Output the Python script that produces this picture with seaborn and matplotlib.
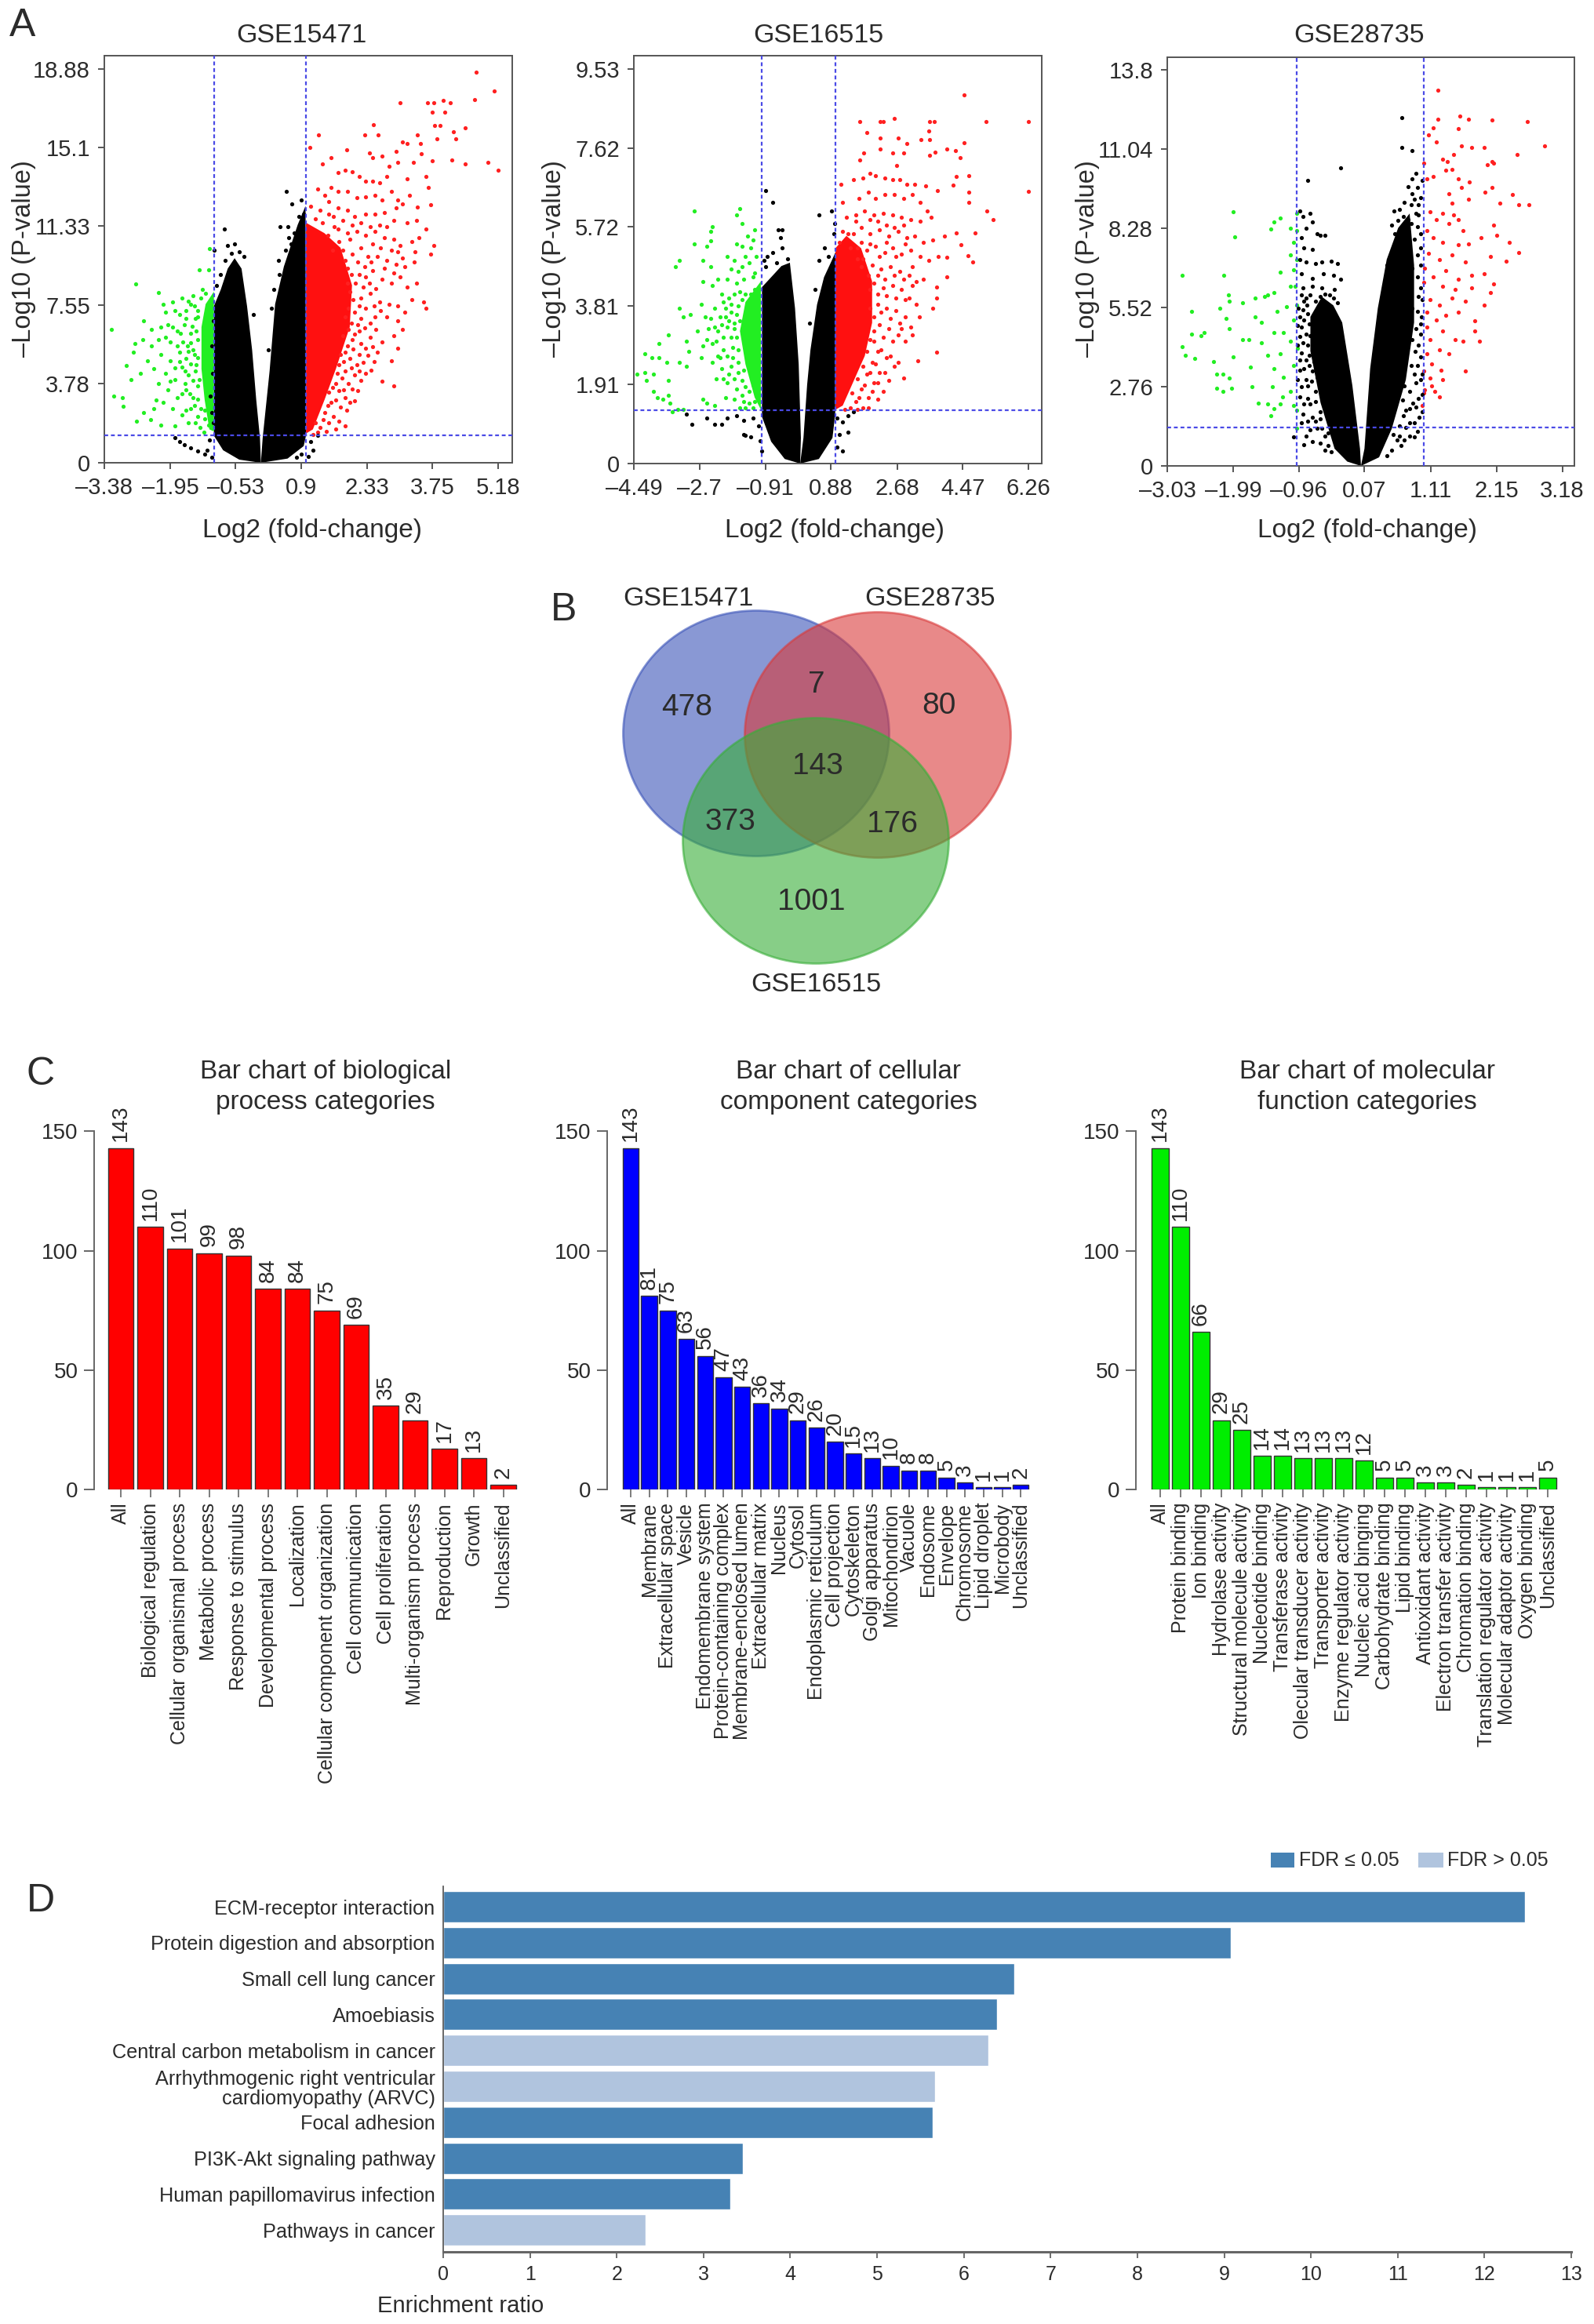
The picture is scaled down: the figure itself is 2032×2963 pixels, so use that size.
import matplotlib
matplotlib.use("Agg")
import matplotlib.pyplot as plt
from matplotlib.patches import Ellipse, Rectangle
import seaborn as sns
import pandas as pd

sns.set_theme(style="white")
plt.rcParams['font.family'] = ['Liberation Sans', 'DejaVu Sans']

W, H = 2032, 2963
TEXT = "#2b2b2b"
FRAME = "#555555"
GUIDE = "#4a4ae6"

# ---- panel A, values ----
ticks_x_15471 = [-3.38, -1.95, -0.53, 0.9, 2.33, 3.75, 5.18]
ticks_y_15471 = [0, 3.78, 7.55, 11.33, 15.1, 18.88]
ticks_x_16515 = [-4.49, -2.7, -0.91, 0.88, 2.68, 4.47, 6.26]
ticks_y_16515 = [0, 1.91, 3.81, 5.72, 7.62, 9.53]
ticks_x_28735 = [-3.03, -1.99, -0.96, 0.07, 1.11, 2.15, 3.18]
ticks_y_28735 = [0, 2.76, 5.52, 8.28, 11.04, 13.8]

# outlines of the areas where the points merge into a solid mass
black_left_15471 = [(0.02, 0), (-0.45, 0.15), (-0.8, 0.6), (-1.0, 1.3), (-1.0, 4), (-1.0, 7.5), (-0.85, 8.3), (-0.7, 9.3),
                    (-0.55, 9.8), (-0.4, 9.3), (-0.28, 7.5), (-0.17, 5.4), (-0.08, 3), (0.0, 1.2)]
black_right_15471 = [(0.02, 0), (0.06, 1.2), (0.21, 4.4), (0.33, 7.6), (0.52, 9.4), (0.82, 11.4), (0.99, 12.3), (1.0, 1.3),
                     (0.95, 0.8), (0.6, 0.2)]
red_core_15471 = [(1, 1.4), (1.15, 1.6), (1.4, 3), (1.65, 4.5), (1.95, 6.5), (2.0, 8.5), (1.75, 10.3), (1.4, 11), (1, 11.5)]
green_core_15471 = [(-1.0, 1.5), (-1.1, 1.6), (-1.2, 3), (-1.27, 4.5), (-1.27, 6.5), (-1.18, 7.6), (-1.0, 8.2)]

black_left_16515 = [(0.04, 0), (-0.38, 0.11), (-0.75, 0.53), (-1.0, 1.13), (-1.0, 4.26), (-0.75, 4.5), (-0.47, 4.77),
                    (-0.24, 4.85), (-0.1, 3.75), (0.0, 2.4), (0.06, 0.62)]
black_right_16515 = [(0.04, 0), (0.13, 0.62), (0.23, 1.9), (0.32, 2.74), (0.5, 3.84), (0.69, 4.5), (0.92, 4.94), (1.0, 5.1),
                     (0.995, 1.2), (0.92, 0.62), (0.55, 0.11)]
red_core_16515 = [(1, 1.3), (1.2, 1.4), (1.5, 2.0), (1.8, 2.6), (2.0, 3.4), (2.0, 4.4), (1.7, 5.2), (1.3, 5.5), (1, 5.2)]
green_core_16515 = [(-1.03, 1.3), (-1.2, 1.6), (-1.45, 2.4), (-1.6, 3.2), (-1.45, 3.9), (-1.03, 4.4)]

black_left_28735 = [(0.015, 0), (-0.2, 0.15), (-0.4, 0.6), (-0.62, 2.2), (-0.78, 4.0), (-0.78, 5.2), (-0.6, 5.9), (-0.42, 5.6),
                    (-0.28, 5.0), (-0.12, 2.8), (0.0, 0.6)]
black_right_28735 = [(0.015, 0), (0.07, 0.6), (0.16, 3.4), (0.28, 5.5), (0.42, 7.2), (0.6, 8.3), (0.78, 8.8), (0.85, 7.0),
                     (0.85, 5.0), (0.72, 3.0), (0.5, 1.3), (0.3, 0.3)]

red_15471 = [(4.69, 18.7), (5.09, 17.8), (4.66, 17.4), (3.05, 17.25), (3.64, 17.25), (3.77, 17.25), (3.98, 17.35), (4.13, 17.25),
             (3.75, 16.8), (4.02, 16.8), (3.79, 16.15), (3.92, 16.15), (4.46, 16.05), (4.21, 15.85), (3.85, 15.5), (4.25, 15.5),
             (3.42, 15.7), (2.46, 16.2), (2.57, 15.7), (2.27, 15.7), (1.28, 15.7), (4.17, 14.5), (4.46, 14.3), (4.95, 14.4),
             (5.17, 14.0), (1.08, 15.1), (1.89, 15.0), (2.38, 14.85), (2.95, 14.9), (3.1, 15.35), (3.2, 15.3), (3.48, 15.3),
             (3.5, 14.8), (3.33, 14.4), (3.75, 14.45), (3.6, 13.7), (3.65, 13.2), (3.71, 12.35), (3.41, 12.25), (3.77, 10.4),
             (3.7, 10.0), (3.37, 10.1), (1.35, 14.3), (1.55, 14.6), (1.7, 13.9), (1.85, 14.0), (2.0, 13.95), (2.15, 13.7),
             (2.3, 13.5), (2.45, 13.5), (2.6, 13.4), (2.8, 14.2), (3.0, 14.4), (2.45, 14.6), (2.65, 14.7), (3.2, 13.6),
             (2.75, 13.7), (1.25, 13.1), (1.4, 12.8), (1.55, 13.2), (1.7, 13.0), (1.9, 13.0), (2.1, 12.7), (2.3, 12.75),
             (2.5, 12.8), (2.65, 12.6), (2.85, 13.0), (3.0, 12.6), (3.1, 12.4), (2.95, 12.2), (3.25, 12.8), (1.1, 12.3),
             (1.3, 12.1), (1.5, 11.9), (1.7, 12.2), (1.9, 12.1), (2.05, 11.8), (2.3, 11.9), (2.5, 11.9), (2.7, 12.0),
             (2.9, 11.6), (3.2, 11.5), (3.4, 11.6), (3.6, 11.2), (1.7, 11.2), (1.9, 11.0), (2.1, 11.1), (2.3, 10.9),
             (2.5, 11.1), (2.7, 10.8), (2.9, 10.7), (3.05, 10.4), (3.3, 10.6), (3.45, 10.8), (1.8, 10.2), (2.0, 10.0),
             (2.2, 10.3), (2.35, 9.9), (2.55, 9.9), (2.75, 9.7), (2.95, 9.5), (3.15, 9.4), (3.35, 9.6), (1.9, 9.3),
             (2.15, 9.0), (2.3, 8.9), (2.45, 9.2), (2.65, 8.8), (2.85, 8.6), (3.05, 8.9), (3.2, 8.4), (3.4, 8.6), (1.95, 8.2),
             (2.2, 7.9), (2.4, 8.1), (2.6, 7.7), (2.8, 7.6), (3.0, 7.5), (3.15, 7.2), (3.3, 7.8), (3.55, 7.7), (3.6, 7.4),
             (1.85, 7.0), (2.05, 7.2), (2.2, 6.9), (2.4, 6.7), (2.5, 7.0), (2.75, 7.0), (3.0, 6.8), (3.1, 6.4), (2.9, 6.1),
             (1.8, 6.1), (2.0, 5.9), (2.2, 5.7), (2.15, 6.3), (2.4, 6.0), (2.65, 5.8), (2.55, 5.3), (3.0, 5.5), (2.85, 4.9),
             (1.75, 5.2), (1.95, 5.0), (2.1, 4.7), (1.85, 4.4), (2.05, 4.2), (2.2, 3.95), (2.25, 4.8), (1.65, 3.8), (2.65, 3.9),
             (2.9, 3.7), (1.5, 3.4), (1.65, 3.0), (1.85, 3.1), (1.95, 2.9), (1.4, 2.4), (1.6, 2.2), (1.3, 1.7), (1.65, 1.6),
             (1.85, 1.75), (1.2, 1.9), (1.62, 11.3), (1.48, 10.9), (1.72, 10.6), (1.58, 10.2), (1.95, 10.7), (1.85, 9.7), (2.12, 9.6),
             (2.28, 9.4), (2.42, 9.6), (1.98, 9.0), (2.08, 8.6), (2.25, 8.4), (2.38, 8.6), (2.52, 8.35), (1.9, 8.6), (2.02, 7.8),
             (2.15, 7.5), (2.3, 7.4), (2.48, 7.5), (2.62, 7.3), (1.92, 7.4), (1.98, 6.7), (2.12, 6.6), (2.28, 6.45), (2.52, 6.4),
             (1.92, 6.4), (2.05, 6.15), (2.3, 5.5), (2.45, 5.55), (1.9, 5.6), (1.85, 5.3), (2.02, 5.45), (2.15, 5.2), (2.35, 5.15),
             (2.48, 4.85), (1.72, 4.7), (1.82, 4.85), (1.98, 4.55), (2.15, 4.4), (2.3, 4.3), (2.42, 4.45), (1.68, 4.3), (1.78, 4.05),
             (1.92, 3.8), (2.0, 3.55), (2.12, 3.45), (1.58, 3.6), (1.72, 3.45), (1.82, 3.5), (1.55, 2.9), (1.75, 2.65), (1.88, 2.5),
             (2.05, 2.95), (1.48, 2.75), (1.38, 2.05), (1.5, 1.9), (1.72, 2.0), (1.25, 1.45), (1.15, 1.35), (1.45, 1.5), (1.5, 12.5),
             (1.2, 11.7), (1.35, 11.5), (1.6, 11.8), (1.8, 11.6), (2.0, 11.4), (2.2, 11.5), (2.4, 11.3), (2.6, 11.4), (2.75, 11.3),
             (2.85, 10.2), (2.62, 10.3), (2.45, 10.5), (3.0, 10.1), (2.7, 9.3), (2.9, 9.1), (3.1, 9.8)]
green_15471 = [(-3.23, 6.4), (-2.7, 8.55), (-2.2, 8.15), (-1.31, 9.25), (-1.1, 10.25), (-1.12, 9.25), (-3.17, 3.2), (-2.98, 3.1),
               (-2.97, 2.7), (-2.9, 4.65), (-2.8, 4.0), (-2.6, 4.3), (-2.72, 5.7), (-2.53, 6.8), (-2.53, 2.4), (-2.68, 2.0),
               (-2.38, 2.05), (-2.15, 1.8), (-2.3, 2.6), (-2.55, 5.9), (-2.35, 6.4), (-2.35, 5.6), (-2.15, 6.5), (-2.0, 6.6),
               (-2.05, 7.2), (-1.85, 7.3), (-1.7, 7.9), (-1.5, 7.6), (-1.45, 8.0), (-1.35, 7.3), (-1.95, 5.8), (-1.8, 6.3),
               (-1.65, 6.6), (-1.5, 6.2), (-1.4, 6.9), (-2.15, 5.2), (-1.95, 4.9), (-1.75, 5.3), (-1.6, 5.0), (-1.45, 5.4),
               (-1.35, 5.9), (-2.3, 4.5), (-2.05, 4.3), (-1.85, 4.0), (-1.7, 4.6), (-1.55, 4.2), (-1.4, 4.4), (-1.35, 3.7),
               (-2.0, 3.5), (-1.8, 3.1), (-1.6, 3.5), (-1.45, 3.1), (-1.9, 2.6), (-1.7, 2.3), (-1.5, 2.6), (-1.35, 2.2),
               (-1.55, 1.9), (-1.3, 1.7), (-1.2, 2.5), (-1.85, 1.75), (-2.1, 2.9), (-1.6, 7.3), (-1.25, 8.3), (-1.9, 7.7),
               (-1.35, 7.0), (-1.42, 7.5), (-1.55, 7.75), (-1.28, 7.9), (-1.18, 8.1), (-1.6, 6.9), (-1.72, 6.2), (-1.48, 6.55),
               (-1.38, 6.3), (-1.58, 5.6), (-1.68, 5.8), (-1.5, 5.75), (-1.42, 5.2), (-1.55, 5.35), (-1.35, 5.05), (-1.75, 4.85),
               (-1.5, 4.75), (-1.38, 4.7), (-1.62, 4.4), (-1.45, 3.95), (-1.32, 4.0), (-1.62, 3.8), (-1.52, 3.3), (-1.35, 3.05),
               (-1.7, 3.3), (-1.42, 2.75), (-1.28, 2.6), (-1.6, 2.5), (-1.2, 2.1), (-1.12, 1.8), (-1.4, 1.9), (-1.22, 1.45),
               (-1.8, 5.6), (-2.05, 6.0), (-1.9, 6.5), (-2.2, 5.9), (-1.85, 4.55), (-1.95, 3.9), (-2.2, 3.8), (-2.25, 3.0),
               (-2.45, 4.9), (-2.75, 5.3), (-2.1, 7.6), (-1.75, 7.1)]
black_15471 = [(-1.0, 10.2), (-0.78, 11.2), (-0.7, 10.4), (-0.55, 10.5), (-0.45, 10.1), (-0.35, 9.9), (0.57, 13.0), (0.7, 12.4),
               (0.85, 11.8), (0.43, 11.3), (0.6, 11.3), (0.4, 9.7), (0.55, 10.2), (0.68, 10.5), (0.9, 12.6), (0.75, 11.0),
               (0.25, 7.4), (0.18, 5.4), (-0.15, 7.1), (-1.75, 1.0), (-1.65, 0.85), (-1.5, 0.7), (-1.35, 0.55), (-1.2, 0.4),
               (-1.1, 1.1), (-1.15, 0.6), (-1.05, 0.25), (1.1, 1.0), (1.15, 0.6), (1.05, 0.3), (1.25, 1.3), (-1.85, 1.2),
               (-1.02, 1.9), (-1.05, 2.4), (-1.08, 3.2), (0.9, 0.4), (0.8, 0.25), (-0.95, 8.5), (-0.85, 9.0), (-0.75, 9.7),
               (-0.62, 10.05), (0.3, 8.3), (0.42, 9.0), (0.62, 10.8), (0.95, 11.9), (-1.03, 4.3), (-1.04, 5.6), (-1.02, 6.8)]

red_16515 = [(4.5, 8.9), (6.26, 8.26), (5.11, 8.26), (1.66, 8.26), (2.22, 8.26), (2.31, 8.26), (2.6, 8.34), (3.56, 8.26), (3.7, 8.26),
             (1.85, 8.0), (3.54, 8.03), (2.22, 7.86), (2.72, 7.86), (3.33, 7.82), (3.56, 7.82), (4.5, 7.75), (2.95, 7.72), (2.22, 7.6),
             (4.03, 7.6), (4.26, 7.56), (4.4, 7.38), (1.76, 7.5), (1.66, 7.33), (2.67, 7.2), (2.55, 7.5), (2.85, 7.5), (3.71, 7.52),
             (3.56, 7.45), (6.26, 6.58), (4.64, 6.95), (4.64, 6.55), (4.64, 6.3), (5.13, 6.1), (5.29, 5.89), (4.81, 5.56), (4.3, 6.93),
             (4.2, 6.73), (3.78, 6.6), (4.3, 5.57), (3.98, 5.49), (4.42, 5.28), (4.62, 5.02), (4.74, 4.87), (4.03, 4.98), (4.03, 4.51),
             (3.75, 4.26), (3.75, 4.0), (3.66, 3.75), (3.29, 3.54), (3.75, 2.69), (3.24, 2.48), (2.85, 2.06), (1.15, 6.75), (1.5, 6.85),
             (1.75, 6.9), (1.95, 7.0), (2.1, 6.95), (2.35, 6.9), (2.55, 6.85), (2.75, 6.85), (2.95, 6.75), (3.15, 6.75), (3.45, 6.7),
             (1.2, 6.3), (1.65, 6.4), (1.9, 6.55), (2.1, 6.4), (2.35, 6.5), (2.6, 6.5), (2.85, 6.4), (3.1, 6.5), (3.3, 6.3), (3.5, 6.1),
             (1.3, 5.95), (1.55, 6.0), (1.8, 6.1), (2.05, 6.0), (2.3, 6.05), (2.55, 6.0), (2.8, 5.95), (3.05, 5.9), (3.3, 5.85), (3.6, 5.95),
             (1.2, 5.6), (1.5, 5.55), (1.7, 5.7), (1.95, 5.55), (2.2, 5.65), (2.45, 5.5), (2.7, 5.6), (2.95, 5.45), (3.15, 5.5), (3.4, 5.35),
             (3.65, 5.4), (1.6, 5.2), (1.85, 5.15), (2.1, 5.25), (2.35, 5.1), (2.55, 5.2), (2.8, 5.05), (3.05, 5.15), (3.3, 5.0), (3.55, 4.9),
             (3.8, 5.0), (1.7, 4.75), (2.0, 4.8), (2.25, 4.7), (2.5, 4.75), (2.75, 4.65), (3.0, 4.55), (3.2, 4.4), (3.4, 4.45), (2.05, 4.35),
             (2.3, 4.25), (2.55, 4.3), (2.8, 4.2), (3.0, 4.0), (3.2, 3.85), (2.15, 3.85), (2.4, 3.75), (2.65, 3.7), (2.9, 3.55), (3.05, 3.3),
             (2.2, 3.35), (2.45, 3.25), (2.7, 3.1), (2.9, 2.95), (3.1, 3.1), (2.05, 2.95), (2.25, 2.75), (2.5, 2.6), (2.7, 2.45), (2.1, 2.4),
             (2.35, 2.2), (1.85, 2.15), (2.05, 1.95), (2.3, 1.75), (1.7, 1.8), (1.9, 1.6), (1.55, 1.5), (1.75, 1.35), (1.4, 1.35),
             (1.55, 5.85), (1.35, 5.55), (1.1, 5.35), (1.7, 5.35), (1.95, 5.9), (2.15, 5.85), (2.4, 5.75), (2.6, 5.7), (2.85, 5.75),
             (1.4, 5.2), (1.75, 4.95), (1.95, 5.3), (2.2, 5.0), (2.4, 5.35), (2.65, 5.0), (2.9, 5.3), (1.6, 4.95), (1.9, 4.55), (2.15, 4.55),
             (2.35, 4.45), (2.6, 4.55), (2.85, 4.45), (3.1, 4.75), (1.95, 4.2), (2.15, 4.1), (2.4, 4.05), (2.65, 4.0), (2.9, 3.95), (3.1, 4.3),
             (1.95, 3.75), (2.05, 3.55), (2.25, 3.65), (2.5, 3.5), (2.75, 3.4), (2.05, 3.2), (2.3, 3.05), (2.55, 2.95), (2.8, 3.25), (1.95, 3.0),
             (2.15, 2.7), (2.4, 2.55), (2.6, 2.35), (1.85, 2.7), (2.0, 2.45), (2.2, 2.2), (2.45, 2.0), (1.75, 2.35), (1.95, 2.2), (2.15, 1.95),
             (1.6, 2.05), (1.8, 1.9), (1.45, 1.7), (1.65, 1.6), (2.0, 1.75), (2.15, 1.55), (1.25, 1.3), (1.6, 1.3), (1.9, 1.35)]
green_16515 = [(-2.85, 6.1), (-1.6, 6.15), (-1.7, 6.0), (-1.55, 5.8), (-2.35, 5.72), (-2.4, 5.6), (-2.4, 5.38), (-2.85, 5.3),
               (-2.5, 5.25), (-1.2, 5.65), (-1.4, 5.5), (-1.55, 5.25), (-1.7, 5.3), (-3.35, 4.75), (-3.25, 4.9), (-2.6, 4.9),
               (-2.4, 4.75), (-1.95, 5.0), (-1.75, 4.9), (-1.55, 4.75), (-1.35, 4.85), (-1.15, 5.0), (-2.6, 4.4), (-2.35, 4.3),
               (-2.2, 4.45), (-1.95, 4.45), (-1.7, 4.35), (-1.5, 4.45), (-1.25, 4.5), (-3.25, 3.75), (-3.15, 3.55), (-2.95, 3.6),
               (-2.65, 3.85), (-2.55, 3.55), (-2.3, 3.75), (-2.05, 3.9), (-1.85, 3.65), (-1.65, 3.8), (-2.75, 3.2), (-2.45, 3.25),
               (-2.2, 3.2), (-1.95, 3.3), (-1.75, 3.25), (-3.55, 3.1), (-3.8, 2.9), (-3.05, 2.95), (-3.0, 2.7), (-2.6, 2.85),
               (-2.35, 2.9), (-2.05, 2.75), (-1.8, 2.8), (-4.2, 2.65), (-4.0, 2.55), (-3.8, 2.55), (-3.6, 2.45), (-3.25, 2.45),
               (-3.05, 2.35), (-2.65, 2.55), (-2.35, 2.45), (-2.1, 2.3), (-1.85, 2.35), (-1.65, 2.2), (-4.4, 2.15), (-4.2, 2.2),
               (-4.15, 2.0), (-3.95, 2.15), (-3.55, 2.0), (-2.25, 2.05), (-1.95, 1.95), (-1.7, 1.8), (-1.45, 1.85), (-1.5, 1.5),
               (-3.95, 1.75), (-3.85, 1.6), (-3.7, 1.55), (-3.55, 1.65), (-3.5, 1.45), (-2.6, 1.55), (-2.5, 1.45), (-2.3, 1.4),
               (-3.45, 1.25), (-3.3, 1.3), (-3.15, 1.3), (-1.25, 1.35), (-1.6, 1.35), (-2.0, 1.6), (-2.2, 2.6), (-2.0, 3.55),
               (-1.3, 4.1), (-1.2, 4.6), (-1.45, 4.1), (-1.6, 4.15), (-1.75, 4.1), (-1.9, 4.0), (-2.1, 4.1), (-1.55, 3.95), (-1.7, 3.6),
               (-1.85, 3.85), (-2.0, 3.75), (-2.15, 3.55), (-2.4, 3.5), (-1.6, 3.45), (-1.75, 3.4), (-1.9, 3.45), (-2.1, 3.35), (-2.3, 3.3),
               (-1.7, 3.05), (-1.85, 3.05), (-2.05, 3.05), (-2.25, 2.95), (-2.5, 3.0), (-1.65, 2.75), (-1.8, 2.55), (-1.95, 2.6),
               (-2.15, 2.55), (-1.65, 2.45), (-1.5, 2.25), (-1.75, 2.05), (-1.9, 2.15), (-2.05, 2.05), (-1.55, 2.0), (-1.35, 1.75),
               (-1.55, 1.65), (-1.75, 1.55), (-1.2, 1.5), (-1.35, 1.45), (-1.25, 1.9), (-1.45, 1.35), (-1.3, 5.2), (-1.45, 5.0),
               (-1.25, 5.4), (-1.65, 4.65), (-1.2, 4.2), (-1.85, 4.7)]
black_16515 = [(-0.9, 6.6), (-0.7, 6.3), (-0.55, 5.65), (-0.45, 5.65), (-0.5, 5.45), (-0.45, 5.2), (-0.85, 5.0), (-0.7, 5.1),
               (-0.9, 4.75), (0.55, 6.0), (0.9, 6.1), (0.98, 5.8), (0.95, 5.55), (0.7, 5.2), (0.8, 5.0), (-3.05, 1.2), (-2.9, 0.95),
               (-2.5, 1.1), (-2.3, 0.95), (-2.1, 0.95), (-1.95, 1.1), (-1.7, 1.15), (-1.5, 1.05), (-1.5, 0.7), (-1.3, 0.65), (-1.25, 1.1),
               (-1.1, 0.9), (-1.05, 0.55), (-1.0, 0.3), (1.05, 1.1), (1.2, 1.0), (1.35, 0.75), (1.1, 0.7), (1.05, 0.4), (1.2, 0.3),
               (1.35, 1.15), (1.5, 1.25), (-1.45, 0.68), (-0.95, 4.9), (0.55, 4.9), (-0.3, 4.95), (-0.6, 4.85), (0.45, 4.2), (0.3, 3.4)]

red_28735 = [(1.23, 13.1), (1.23, 12.1), (1.57, 12.2), (1.7, 12.1), (2.07, 12.05), (2.63, 12.0), (1.15, 11.8), (1.55, 11.75),
             (1.08, 11.55), (1.2, 11.3), (1.6, 11.15), (1.75, 11.1), (1.95, 11.1), (2.9, 11.15), (2.47, 10.85), (1.47, 10.85), (1.3, 10.7),
             (1.37, 10.6), (1.0, 10.55), (2.0, 10.5), (2.1, 10.55), (2.07, 10.6), (1.45, 10.35), (1.35, 10.3), (1.15, 10.1), (1.05, 10.0),
             (1.55, 10.0), (2.08, 9.7), (1.4, 9.5), (1.6, 9.7), (1.7, 9.3), (1.72, 9.9), (1.97, 9.55), (1.45, 9.15), (2.2, 9.15), (2.5, 9.1),
             (2.4, 9.45), (2.65, 9.1), (1.3, 8.8), (1.47, 8.75), (1.55, 8.6), (2.1, 8.4), (1.1, 8.85), (1.2, 8.6), (1.4, 8.45), (1.62, 8.2),
             (1.05, 8.2), (1.15, 7.95), (1.3, 7.8), (1.55, 7.7), (1.7, 7.75), (1.9, 7.95), (2.15, 8.05), (2.35, 7.8), (2.5, 7.45), (1.08, 7.4),
             (1.25, 7.2), (1.45, 7.35), (1.65, 7.1), (2.05, 7.3), (2.3, 7.15), (1.02, 6.9), (1.15, 6.6), (1.35, 6.8), (1.55, 6.5), (1.75, 6.65),
             (1.95, 6.7), (2.1, 6.35), (1.0, 6.4), (1.3, 6.25), (1.5, 6.15), (1.75, 6.2), (2.05, 6.05), (1.1, 5.8), (1.25, 5.6), (1.45, 5.85),
             (1.65, 5.75), (1.95, 5.6), (1.05, 5.35), (1.2, 5.1), (1.35, 5.25), (1.55, 5.35), (1.8, 5.05), (1.05, 4.85), (1.3, 4.7), (1.5, 4.4),
             (1.62, 4.35), (1.8, 4.7), (1.88, 4.35), (1.1, 4.4), (1.25, 4.05), (1.4, 3.9), (1.05, 3.9), (1.13, 3.55), (1.27, 3.35), (1.65, 3.3),
             (1.0, 3.3), (1.1, 3.05), (1.3, 3.0), (1.02, 2.65), (1.12, 2.8), (1.17, 2.6), (1.25, 2.4), (1.0, 2.55), (0.98, 2.1)]
green_28735 = [(-2.0, 8.85), (-1.97, 8.0), (-2.8, 6.65), (-2.14, 6.65), (-2.65, 5.4), (-2.07, 5.95), (-2.8, 4.15), (-2.75, 3.85),
               (-2.6, 3.75), (-2.65, 4.6), (-2.5, 4.55), (-2.45, 4.65), (-2.3, 3.65), (-2.25, 3.2), (-2.15, 3.2), (-2.05, 3.05), (-2.25, 2.7),
               (-2.15, 2.6), (-2.02, 2.7), (-2.0, 3.8), (-2.05, 4.8), (-2.1, 5.15), (-2.2, 5.5), (-2.05, 5.75), (-1.85, 5.7), (-1.85, 4.4),
               (-1.75, 4.4), (-1.72, 3.45), (-1.7, 2.75), (-1.6, 2.2), (-1.45, 2.15), (-1.65, 5.2), (-1.55, 5.0), (-1.5, 5.9), (-1.65, 5.85),
               (-1.45, 5.95), (-1.35, 6.05), (-1.3, 5.4), (-1.15, 5.55), (-1.05, 5.1), (-1.2, 4.65), (-1.35, 4.65), (-1.0, 5.6), (-1.1, 4.35),
               (-1.25, 3.9), (-1.45, 3.85), (-1.55, 4.3), (-1.35, 3.4), (-1.2, 3.1), (-1.05, 3.5), (-0.98, 4.1), (-1.38, 2.75), (-1.22, 2.4),
               (-1.05, 2.1), (-1.35, 2.0), (-1.4, 1.75), (-1.25, 2.15), (-1.1, 2.6), (-1.0, 1.95), (-1.0, 1.3), (-1.25, 8.65), (-1.0, 8.8),
               (-1.4, 8.25), (-1.1, 8.3), (-1.0, 8.2), (-1.35, 8.5), (-1.05, 7.8), (-1.1, 7.35), (-1.0, 7.2), (-1.25, 6.75), (-1.05, 6.85),
               (-1.1, 6.25), (-1.02, 6.25)]
black_28735 = [(0.66, 12.15), (0.66, 11.1), (0.82, 11.0), (-0.31, 10.4), (-0.82, 9.95), (-0.95, 8.9), (-0.9, 8.7), (-0.78, 8.8),
               (-0.85, 8.3), (-0.75, 8.5), (-0.68, 8.1), (-0.62, 8.05), (-0.55, 8.05), (-0.92, 7.95), (-0.88, 7.6), (-0.75, 7.55), (-0.95, 7.2),
               (-0.85, 7.1), (-0.7, 7.05), (-0.6, 7.1), (-0.45, 7.15), (-0.35, 7.05), (-0.92, 6.7), (-0.75, 6.55), (-0.58, 6.7), (-0.42, 6.65),
               (-0.3, 6.5), (-0.9, 6.2), (-0.75, 6.25), (-0.6, 6.2), (-0.4, 6.15), (-0.88, 5.75), (-0.95, 5.2), (-0.82, 5.3), (-0.95, 4.5),
               (-0.85, 4.6), (-0.95, 3.7), (-0.85, 3.7), (-0.98, 3.0), (-0.85, 3.0), (-0.75, 3.3), (-0.95, 2.4), (-0.82, 2.35), (-0.7, 2.6),
               (-0.9, 1.8), (-0.75, 1.7), (-0.62, 1.9), (-0.85, 1.05), (-0.68, 1.3), (-0.55, 1.05), (-0.5, 0.7), (-0.45, 1.5), (-1.05, 1.0),
               (0.98, 9.95), (0.9, 9.7), (0.75, 9.75), (0.82, 9.5), (0.88, 10.2), (0.82, 10.0), (0.92, 9.1), (0.8, 9.1), (0.88, 8.8), (0.62, 8.95),
               (0.53, 8.9), (0.75, 8.6), (0.9, 8.35), (0.68, 8.35), (0.55, 8.1), (0.62, 7.9), (0.85, 7.9), (0.95, 7.6), (0.78, 7.55),
               (0.95, 7.0), (0.82, 6.9), (0.95, 6.2), (0.8, 6.2), (0.98, 5.8), (0.82, 5.5), (0.97, 5.2), (0.78, 5.2), (0.95, 4.6), (0.82, 4.4),
               (0.95, 3.8), (0.8, 3.5), (0.98, 3.2), (0.88, 2.9), (0.7, 2.8), (0.98, 2.5), (0.83, 2.2), (0.67, 2.3), (0.93, 1.7), (0.78, 1.5),
               (0.62, 1.4), (0.85, 1.0), (0.7, 0.9), (0.58, 0.9), (0.42, 0.35), (0.98, 1.9), (-0.92, 5.95), (-0.85, 5.85), (-0.78, 5.95),
               (-0.7, 5.75), (-0.62, 5.9), (-0.55, 6.0), (-0.48, 5.95), (-0.42, 5.85), (-0.35, 5.7), (-0.97, 5.5), (-0.9, 5.45), (-0.83, 5.6),
               (-0.88, 5.1), (-0.8, 4.95), (-0.92, 4.85), (-0.98, 4.9), (-0.9, 4.3), (-0.82, 4.2), (-0.78, 4.55), (-0.98, 4.2), (-0.92, 3.95),
               (-0.8, 3.85), (-0.95, 3.35), (-0.88, 3.4), (-0.8, 3.5), (-0.72, 3.65), (-0.92, 2.75), (-0.82, 2.8), (-0.76, 2.95), (-0.68, 3.1),
               (-0.62, 2.75), (-0.88, 2.15), (-0.78, 2.15), (-0.7, 2.25), (-0.92, 1.5), (-0.82, 1.55), (-0.7, 1.55), (-0.62, 1.65), (-0.78, 1.25),
               (-0.6, 1.3), (-0.5, 1.15), (-0.75, 0.85), (-0.62, 0.8), (-0.55, 0.55), (-0.45, 0.5), (-0.4, 0.9), (-0.38, 1.05), (-0.88, 0.75),
               (0.95, 9.35), (0.85, 9.3), (0.7, 9.2), (0.92, 8.75), (0.8, 8.45), (0.68, 8.7), (0.6, 8.55), (0.5, 8.4), (0.95, 8.1), (0.9, 7.35),
               (0.72, 7.7), (0.65, 7.5), (0.55, 7.6), (0.48, 7.35), (0.42, 7.0), (0.9, 6.6), (0.92, 5.9), (0.9, 5.4), (0.95, 4.95), (0.88, 4.8),
               (0.92, 4.2), (0.87, 4.0), (0.9, 3.5), (0.95, 3.0), (0.85, 3.2), (0.78, 2.6), (0.92, 2.35), (0.88, 2.05), (0.78, 2.0), (0.72, 1.95),
               (0.68, 1.75), (0.85, 1.5), (0.72, 1.35), (0.62, 1.05), (0.52, 1.1), (0.78, 1.05), (0.65, 0.7), (0.5, 0.55), (0.9, 1.2)]

# ---- panel B, overlap counts ----
venn_names = ["GSE15471", "GSE28735", "GSE16515"]
venn_counts = ["478", "7", "80", "143", "373", "176", "1001"]

# ---- panel C, category counts ----
bp_names = ["All", "Biological regulation", "Cellular organismal process", "Metabolic process", "Response to stimulus",
            "Developmental process", "Localization", "Cellular component organization", "Cell communication",
            "Cell proliferation", "Multi-organism process", "Reproduction", "Growth", "Unclassified"]
bp_values = [143, 110, 101, 99, 98, 84, 84, 75, 69, 35, 29, 17, 13, 2]
cc_names = ["All", "Membrane", "Extracellular space", "Vesicle", "Endomembrane system", "Protein-containing complex",
            "Membrane-enclosed lumen", "Extracellular matrix", "Nucleus", "Cytosol", "Endoplasmic reticulum", "Cell projection",
            "Cytoskeleton", "Golgi apparatus", "Mitochondrion", "Vacuole", "Endosome", "Envelope", "Chromosome",
            "Lipid droplet", "Microbody", "Unclassified"]
cc_values = [143, 81, 75, 63, 56, 47, 43, 36, 34, 29, 26, 20, 15, 13, 10, 8, 8, 5, 3, 1, 1, 2]
mf_names = ["All", "Protein binding", "Ion binding", "Hydrolase activity", "Structural molecule activity", "Nucleotide binding",
            "Transferase activity", "Olecular transducer activity", "Transporter activity", "Enzyme regulator activity",
            "Nucleic acid binging", "Carbohydrate binding", "Lipid binding", "Antioxidant activity", "Electron transfer activity",
            "Chromation binding", "Translation regulator activity", "Molecular adaptor activity", "Oxygen binding", "Unclassified"]
mf_values = [143, 110, 66, 29, 25, 14, 14, 13, 13, 13, 12, 5, 5, 3, 3, 2, 1, 1, 1, 5]

# ---- panel D, enrichment ----
pathways = ["ECM-receptor interaction", "Protein digestion and absorption", "Small cell lung cancer", "Amoebiasis",
            "Central carbon metabolism in cancer", "Arrhythmogenic right ventricular\ncardiomyopathy (ARVC)", "Focal adhesion",
            "PI3K-Akt signaling pathway", "Human papillomavirus infection", "Pathways in cancer"]
enrichment = [12.47, 9.08, 6.58, 6.38, 6.28, 5.67, 5.64, 3.45, 3.31, 2.33]
fdr_group = ["low", "low", "low", "low", "high", "high", "low", "low", "low", "high"]


def px_axes(left, top, right, bottom):
    return fig.add_axes([left / W, 1 - bottom / H, (right - left) / W, (bottom - top) / H])


def label(x, y, s, size=24.5, **kw):
    kw.setdefault("ha", "center")
    kw.setdefault("va", "center")
    fig.text(x / W, 1 - y / H, s, fontsize=size, color=TEXT, **kw)


def scatter(ax, points, colour, size=14):
    frame = pd.DataFrame(points, columns=["fc", "p"])
    sns.scatterplot(data=frame, x="fc", y="p", color=colour, s=size, linewidth=0, ax=ax, legend=False)


def volcano(box, title, title_x, xlabel_x, xlim, ylim, xticks, yticks, hline, solids, greens, reds, blacks):
    ax = px_axes(*box)
    for outline, colour in solids:
        ax.fill(*zip(*outline), color=colour, lw=0, zorder=1)
    scatter(ax, greens, "#22ee22")
    scatter(ax, reds, "#ff2020")
    scatter(ax, blacks, "black")
    ax.axvline(-1, color=GUIDE, lw=1.6, ls=(0, (2.2, 1.6)), zorder=4)
    ax.axvline(1, color=GUIDE, lw=1.6, ls=(0, (2.2, 1.6)), zorder=4)
    ax.axhline(hline, color=GUIDE, lw=1.6, ls=(0, (2.2, 1.6)), zorder=4)
    ax.set_xlim(*xlim)
    ax.set_ylim(*ylim)
    ax.set_xticks(xticks, [str(t).replace("-", "\u2013") for t in xticks])
    ax.set_yticks(yticks, [str(t) for t in yticks])
    ax.tick_params(bottom=True, left=True, length=6, width=1.4, color=FRAME, labelsize=21, labelcolor=TEXT, pad=7)
    ax.set_xlabel("")
    ax.set_ylabel("")
    for spine in ax.spines.values():
        spine.set_color(FRAME)
        spine.set_linewidth(1.4)
    label(title_x, 46, title)
    label(xlabel_x, 677, "Log2 (fold-change)", size=24)
    label(box[0] - 102, 330, "\u2013Log10 (P-value)", size=23.5, rotation=90)


def category_bars(left, right, first, pitch, names, values, colour, title, title_x, bar_width):
    ax = px_axes(left, 1442.5, right, 1899)
    sns.barplot(x=names, y=values, color=colour, saturation=1, width=bar_width, edgecolor="#333333", linewidth=1.0, ax=ax)
    ax.bar_label(ax.containers[0], rotation=90, padding=6, fontsize=20, color=TEXT)
    ax.set_xlim((left - first) / pitch, (right - first) / pitch)
    ax.set_ylim(0, 150)
    ax.set_yticks([0, 50, 100, 150])
    ax.tick_params(axis="y", left=True, length=9.5, width=1.4, color="#666666", labelsize=20, labelcolor=TEXT, pad=5)
    ax.tick_params(axis="x", bottom=True, length=7, width=1.2, color="#666666", labelsize=18, labelcolor=TEXT, pad=5,
                   labelrotation=90)
    sns.despine(ax=ax, top=True, right=True, bottom=True)
    ax.spines["left"].set_color("#666666")
    ax.spines["left"].set_linewidth(1.4)
    ax.set_xlabel("")
    ax.set_ylabel("")
    label(title_x, 1386, title, size=24, linespacing=1.3)


fig = plt.figure(figsize=(W / 100, H / 100), dpi=100)

volcano((133, 71, 653, 590), "GSE15471", 384, 398, (-3.38, 5.48), (0, 19.5), ticks_x_15471, ticks_y_15471, 1.3,
        [(black_left_15471, "black"), (black_right_15471, "black"), (red_core_15471, "#ff1010"), (green_core_15471, "#22ee22")],
        green_15471, red_15471, black_15471)
volcano((808, 71, 1328, 591), "GSE16515", 1043, 1064, (-4.49, 6.62), (0, 9.85), ticks_x_16515, ticks_y_16515, 1.28,
        [(black_left_16515, "black"), (black_right_16515, "black"), (red_core_16515, "#ff1010"), (green_core_16515, "#22ee22")],
        green_16515, red_16515, black_16515)
volcano((1488, 73, 2007, 594), "GSE28735", 1733, 1743, (-3.03, 3.37), (0, 14.25), ticks_x_28735, ticks_y_28735, 1.34,
        [(black_left_28735, "black"), (black_right_28735, "black")],
        green_28735, red_28735, black_28735)

# Venn diagram, slightly wider than tall as in the figure
venn = fig.add_axes([0, 0, 1, 1], zorder=-1)
venn.set_xlim(0, W)
venn.set_ylim(H, 0)
venn.axis("off")
for xy, colour in [((964, 935), "#3a53b8"), ((1119, 937), "#d93a3a"), ((1040, 1072), "#38ae38")]:
    venn.add_patch(Ellipse(xy, 339, 313, facecolor=colour, edgecolor=colour, alpha=0.6, lw=2))
for (x, y), name in zip([(877, 764), (1186, 764), (1040, 1256)], venn_names):
    label(x, y, name)
for (x, y), count in zip([(876, 900), (1041, 871), (1197, 898), (1042, 975), (931, 1046), (1137, 1049), (1034, 1148)], venn_counts):
    label(x, y + 2, count, size=28)

category_bars(120, 660, 154, 37.5, bp_names, bp_values, "#ff0000", "Bar chart of biological\nprocess categories", 415, 0.86)
category_bars(774, 1316, 804, 23.68, cc_names, cc_values, "#0000ff", "Bar chart of cellular\ncomponent categories", 1082, 0.86)
category_bars(1448, 1989, 1479, 26.0, mf_names, mf_values, "#00ee00", "Bar chart of molecular\nfunction categories", 1743, 0.85)

# enrichment bars
ax_d = px_axes(565, 2405, 2003, 2871)
sns.barplot(x=enrichment, y=pathways, hue=fdr_group, palette={"low": "#4682b4", "high": "#b0c4de"}, dodge=False,
            saturation=1, width=0.875, legend=False, ax=ax_d)
ax_d.set_xlim(0, 13)
ax_d.set_ylim(9.607, -0.568)
ax_d.set_xticks(range(14))
ax_d.tick_params(axis="x", bottom=True, length=6, width=1.2, color="#555555", labelsize=18, labelcolor=TEXT, pad=6)
ax_d.tick_params(axis="y", left=False, labelsize=18.2, labelcolor=TEXT, pad=1.5)
for tick in ax_d.get_yticklabels():
    tick.set_linespacing(1.1)
sns.despine(ax=ax_d, top=True, right=True)
ax_d.spines["bottom"].set_color("#666666")
ax_d.spines["bottom"].set_linewidth(2.2)
ax_d.spines["left"].set_color("#555555")
ax_d.set_xlabel("")
ax_d.set_ylabel("")
label(587, 2940, "Enrichment ratio", size=21)

# legend of panel D
venn.add_patch(Rectangle((1620, 2362), 30, 19, color="#4682b4", lw=0))
venn.add_patch(Rectangle((1808, 2362), 32, 19, color="#b0c4de", lw=0))
label(1656, 2372, "FDR \u2264 0.05", size=18, ha="left")
label(1845, 2372, "FDR > 0.05", size=18, ha="left")

# panel letters
label(29, 33, "A", size=36)
label(719, 778, "B", size=36)
label(52, 1370, "C", size=36)
label(52, 2424, "D", size=36)

fig.savefig("out.png", dpi=100, facecolor="white")
